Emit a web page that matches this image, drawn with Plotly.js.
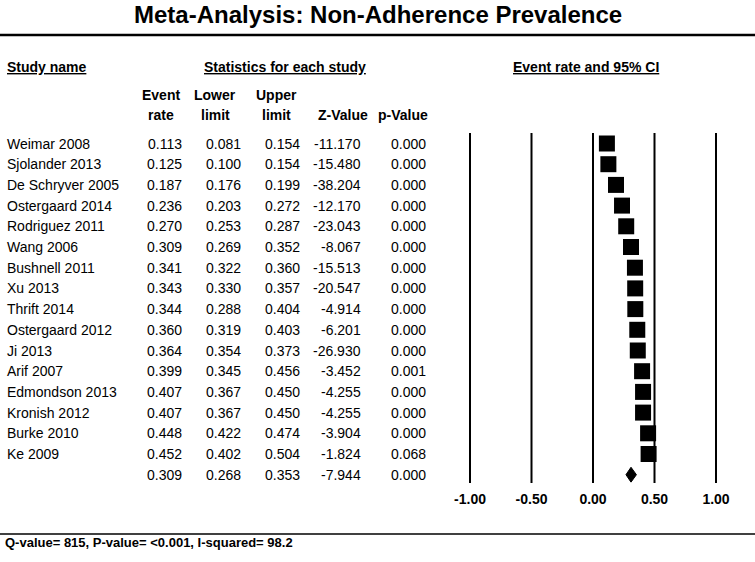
<!DOCTYPE html>
<html><head><meta charset="utf-8">
<script src="https://cdn.plot.ly/plotly-3.0.1.min.js"></script>
<style>html,body{margin:0;padding:0;background:#fff}</style>
</head><body><div id="chart" style="width:755px;height:562px"></div>
<script>
// ---- data ----
const studies = ['Weimar 2008','Sjolander 2013','De Schryver 2005','Ostergaard 2014','Rodriguez 2011','Wang 2006','Bushnell 2011','Xu 2013','Thrift 2014','Ostergaard 2012','Ji 2013','Arif 2007','Edmondson 2013','Kronish 2012','Burke 2010','Ke 2009'];
const eventRate  = [0.113,0.125,0.187,0.236,0.270,0.309,0.341,0.343,0.344,0.360,0.364,0.399,0.407,0.407,0.448,0.452];
const lowerLimit = [0.081,0.100,0.176,0.203,0.253,0.269,0.322,0.330,0.288,0.319,0.354,0.345,0.367,0.367,0.422,0.402];
const upperLimit = [0.154,0.154,0.199,0.272,0.287,0.352,0.360,0.357,0.404,0.403,0.373,0.456,0.450,0.450,0.474,0.504];
const zValue     = [-11.170,-15.480,-38.204,-12.170,-23.043,-8.067,-15.513,-20.547,-4.914,-6.201,-26.930,-3.452,-4.255,-4.255,-3.904,-1.824];
const pValue     = [0.000,0.000,0.000,0.000,0.000,0.000,0.000,0.000,0.000,0.000,0.000,0.001,0.000,0.000,0.000,0.068];
const summaryRate = 0.309, summaryLower = 0.268, summaryUpper = 0.353, summaryZ = -7.944, summaryP = 0.000;
const tickVals = [-1, -0.5, 0, 0.5, 1];
const tickText = ['-1.00','-0.50','0.00','0.50','1.00'];
const titleText = 'Meta-Analysis: Non-Adherence Prevalence';
const footerText = 'Q-value= 815, P-value= <0.001, I-squared= 98.2';

// ---- layout helpers ----
const W = 755, H = 562;
const FONT = 'Liberation Sans, Arial, sans-serif';
const px = x => x / W;
const py = y => 1 - y / H;
const rowTop = 143.5, rowStep = 20.7;
const yMin = -rowTop / rowStep, yMax = (H - rowTop) / rowStep;
const summaryRow = studies.length;

const ann = [];
function txt(text, x, y, opts) {
  ann.push(Object.assign({
    text: text, x: x, y: y, xref: 'paper', yref: 'paper',
    showarrow: false, xanchor: 'center', yanchor: 'middle',
    font: {family: FONT, size: 14, color: '#000'}
  }, opts || {}));
}
const bold = (size) => ({family: FONT, size: size, color: '#000', weight: 'bold'});

// title
txt(titleText, px(377.5), py(15), {font: bold(24)});
// section headers
txt('<u>Study name</u>', px(5), py(67), {xanchor: 'left', font: bold(14)});
txt('<u>Statistics for each study</u>', px(285), py(67), {font: bold(14)});
txt('<u>Event rate and 95% CI</u>', px(586), py(67), {font: bold(14)});
// column headers
const colHdr = [['Event','rate',160.5],['Lower','limit',215],['Upper','limit',276],['','Z-Value',342.5],['','p-Value',403]];
colHdr.forEach(h => {
  if (h[0]) txt(h[0], px(h[2]), py(95), {font: bold(14)});
  txt(h[1], px(h[2]), py(115), {font: bold(14)});
});
// table rows
const colRight = [184, 243, 302, 363, 428];
function row(name, vals, r) {
  if (name) ann.push({text: name, x: px(5), y: r, xref: 'paper', yref: 'y', showarrow: false,
    xanchor: 'left', yanchor: 'middle', font: {family: FONT, size: 14, color: '#000'}});
  vals.forEach((v, j) => ann.push({text: v, x: px(colRight[j]), y: r, xref: 'paper', yref: 'y',
    showarrow: false, xanchor: 'right', yanchor: 'middle', font: {family: FONT, size: 14, color: '#000'}}));
}
studies.forEach((s, i) => row(s, [eventRate[i], lowerLimit[i], upperLimit[i], zValue[i], pValue[i]].map(v => v.toFixed(3)), i));
row('', [summaryRate, summaryLower, summaryUpper, summaryZ, summaryP].map(v => v.toFixed(3)), summaryRow);
// footer
txt(footerText, px(3), py(542), {xanchor: 'left', font: bold(13)});

// shapes
const shapes = [
  {type: 'line', xref: 'paper', yref: 'paper', x0: 0, x1: 1, y0: py(35), y1: py(35), line: {color: '#000', width: 2.5}},
  {type: 'line', xref: 'paper', yref: 'paper', x0: 0, x1: 1, y0: py(534), y1: py(534), line: {color: '#000', width: 1.5}}
];
tickVals.forEach(v => shapes.push({type: 'line', xref: 'x', yref: 'paper', x0: v, x1: v,
  y0: py(483), y1: py(133), line: {color: '#000', width: 2}}));
const dh = 0.36;
shapes.push({type: 'path', xref: 'x', yref: 'y', fillcolor: '#000', line: {color: '#000', width: 1},
  path: `M${summaryLower},${summaryRow} L${summaryRate},${summaryRow - dh} L${summaryUpper},${summaryRow} L${summaryRate},${summaryRow + dh} Z`});

const idx = studies.map((s, i) => i);
const trace = {
  type: 'scatter', mode: 'markers', x: eventRate, y: idx, cliponaxis: false,
  marker: {symbol: 'square', size: 16, color: '#000', line: {width: 0}},
  error_x: {type: 'data', array: upperLimit.map((u, i) => u - eventRate[i]),
            arrayminus: eventRate.map((e, i) => e - lowerLimit[i]), color: '#000', thickness: 1.5, width: 0},
  hoverinfo: 'skip', showlegend: false
};

const x0 = 593, unit = 123;
const layout = {
  width: W, height: H, autosize: false,
  margin: {l: 0, r: 0, t: 0, b: 0, pad: 0},
  paper_bgcolor: '#fff', plot_bgcolor: 'rgba(0,0,0,0)',
  xaxis: {range: [-1.2, 1.2], domain: [px(x0 - 1.2 * unit), px(x0 + 1.2 * unit)],
    anchor: 'free', position: py(489), showgrid: false, zeroline: false, showline: false,
    ticks: '', tickvals: tickVals, ticktext: tickText, tickfont: bold(14), fixedrange: true},
  yaxis: {range: [yMax, yMin], domain: [0, 1], visible: false, fixedrange: true},
  shapes: shapes, annotations: ann, showlegend: false
};
Plotly.newPlot('chart', [trace], layout, {staticPlot: true, displayModeBar: false});
</script></body></html>
